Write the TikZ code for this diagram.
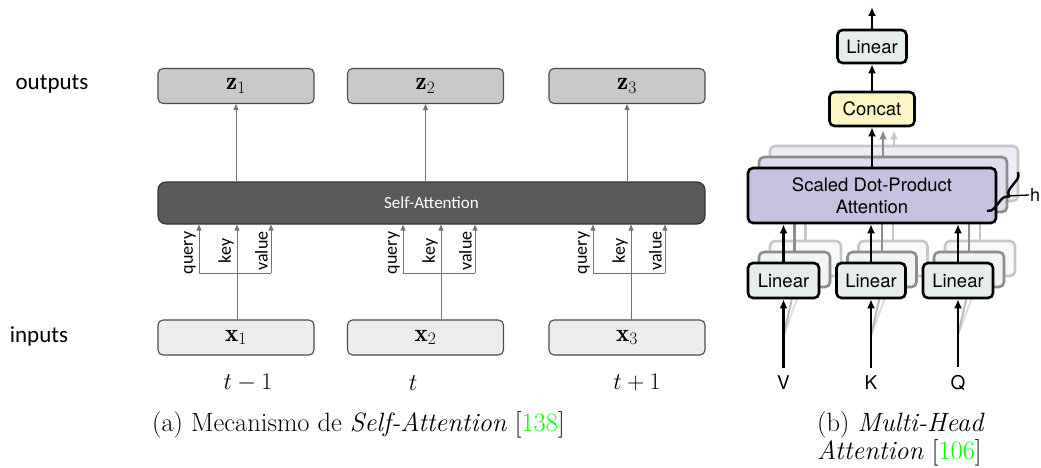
\RequirePackage{fix-cm}
\documentclass[tikz,border=0pt]{standalone}
\usepackage{fontspec}
\newfontfamily\calibri{Carlito}
\newfontfamily\helv{TeX Gyre Heros}
\usetikzlibrary{arrows.meta,decorations.pathreplacing,positioning}

\definecolor{outfill}{RGB}{201,201,201}
\definecolor{infill}{RGB}{236,236,236}
\definecolor{attfill}{RGB}{90,90,90}
\definecolor{linfill}{RGB}{231,237,235}
\definecolor{catfill}{RGB}{251,246,196}
\definecolor{dotfill}{RGB}{199,192,224}

\tikzset{
  vecbox/.style={draw=black!70, fill=#1, rounded corners=5pt, line width=1.1pt,
    minimum width=156pt, minimum height=35pt, inner sep=0pt,
    font=\fontsize{25}{28}\selectfont},
  thinarrow/.style={draw=black!55, line width=0.9pt, -{Triangle[length=6pt,width=5pt]}},
  qkv/.style={rotate=90, anchor=south, inner sep=3pt, font=\calibri\fontsize{18}{20}\selectfont},
  mhbox/.style={draw=black, line width=2.6pt, rounded corners=5pt, fill=#1, inner sep=0pt,
    font=\helv\fontsize{18.5}{22}\selectfont},
  fatarrow/.style={line width=2.6pt, -{Latex[length=9pt,width=8pt]}},
}

\begin{document}
\begin{tikzpicture}[x=1pt,y=-1pt]
  \useasboundingbox (0,0) rectangle (1041,468);

  % self-attention over three time steps
  \node[font=\calibri\fontsize{23}{26}\selectfont] (outlbl) at (52,84) {outputs};
  \node[font=\calibri\fontsize{23}{26}\selectfont] (inlbl) at (39,336) {inputs};
  \node[draw=black!80, fill=attfill, rounded corners=8pt, line width=1.1pt,
    minimum width=547pt, minimum height=42pt, text=white,
    font=\calibri\fontsize{17}{20}\selectfont] (att) at (431.5,203) {Self-Attention};

  \foreach \i/\cx/\kx/\tx/\t in {1/236/237/248/t-1, 2/425.5/441/413/t, 3/627/631/637/t+1} {
    \node[vecbox=outfill] (z\i) at (\cx,86) {$\mathbf{z}_\i$};
    \node[vecbox=infill] (x\i) at (\cx,337.5) {$\mathbf{x}_\i$};
    \node[font=\fontsize{24}{28}\selectfont] (t\i) at (\tx,383) {$\t$};
    \draw[thinarrow] (att.north -| z\i.south) -- (z\i.south);
    % key goes straight up, query and value branch off it
    \coordinate (k\i) at (\kx,320);
    \coordinate (q\i) at (\kx-38,273);
    \coordinate (v\i) at (\kx+34,273);
    \draw[draw=black!55, line width=0.9pt] (q\i) -- (v\i);
    \draw[thinarrow] (k\i) -- (k\i |- att.south);
    \draw[thinarrow] (q\i) -- (q\i |- att.south);
    \draw[thinarrow] (v\i) -- (v\i |- att.south);
    \node[qkv] (ql\i) at (q\i |- 0,253) {query};
    \node[qkv] (kl\i) at (k\i |- 0,251) {key};
    \node[qkv] (vl\i) at (v\i |- 0,251) {value};
  }

  % multi-head attention
  \coordinate (out) at (872,7);
  \node[mhbox=linfill, minimum width=69pt, minimum height=33pt] (lintop) at (872,46.5) {Linear};
  \node[mhbox=catfill, minimum width=85pt, minimum height=34pt] (concat) at (872,109) {Concat};
  \node[font=\helv\fontsize{19}{22}\selectfont, inner sep=8pt] (vin) at (783.5,383) {V};
  \node[font=\helv\fontsize{19}{22}\selectfont, inner sep=8pt] (kin) at (871,383) {K};
  \node[font=\helv\fontsize{19}{22}\selectfont, inner sep=8pt] (qin) at (958,383) {Q};

  % the other heads, stacked behind
  \foreach \d/\ln/\sm/\fl/\lf in {22/black!22/black!13/dotfill!30/linfill!35, 11/black!45/black!27/dotfill!55/linfill!60} {
    \draw[\sm, line width=2pt] ([yshift=32pt]vin.north) -- (783.5+\d,298-\d);
    \draw[\sm, line width=2pt] ([yshift=32pt]kin.north) -- (871+\d,298-\d);
    \draw[\sm, line width=2pt] ([yshift=32pt]qin.north) -- (958+\d,298-\d);
    \node[mhbox=\fl, draw=\ln, minimum width=248pt, minimum height=55pt] (sdpa\d) at (872+\d,195.5-\d) {};
    \node[mhbox=\lf, draw=\ln, minimum width=71pt, minimum height=35pt] (linv\d) at (783.5+\d,280.5-\d) {};
    \node[mhbox=\lf, draw=\ln, minimum width=69pt, minimum height=35pt] (link\d) at (871+\d,280.5-\d) {};
    \node[mhbox=\lf, draw=\ln, minimum width=70pt, minimum height=35pt] (linq\d) at (958+\d,280.5-\d) {};
    \draw[\ln, line width=2.6pt] (linv\d.north) -- (linv\d.north |- sdpa\d.south);
    \draw[\ln, line width=2.6pt] (link\d.north) -- (link\d.north |- sdpa\d.south);
    \draw[\ln, line width=2.6pt] (linq\d.north) -- (linq\d.north |- sdpa\d.south);
    \draw[\ln, fatarrow, shorten >=3pt] (sdpa\d.north) -- (sdpa\d.north |- concat.south);
  }

  \node[mhbox=dotfill, minimum width=248pt, minimum height=55pt, align=center] (sdpa) at (872,195.5)
    {Scaled Dot-Product\\Attention};
  \node[mhbox=linfill, minimum width=71pt, minimum height=35pt] (linv) at (783.5,280.5) {Linear};
  \node[mhbox=linfill, minimum width=69pt, minimum height=35pt] (link) at (871,280.5) {Linear};
  \node[mhbox=linfill, minimum width=70pt, minimum height=35pt] (linq) at (958,280.5) {Linear};

  \draw[fatarrow] (vin.north) -- (linv.south);
  \draw[fatarrow] (kin.north) -- (link.south);
  \draw[fatarrow] (qin.north) -- (linq.south);
  \draw[fatarrow] (linv.north) -- (linv.north |- sdpa.south);
  \draw[fatarrow] (link.north) -- (link.north |- sdpa.south);
  \draw[fatarrow] (linq.north) -- (linq.north |- sdpa.south);
  \draw[fatarrow] (sdpa.north) -- (concat.south);
  \draw[fatarrow] (concat.north) -- (lintop.south);
  \draw[fatarrow] (lintop.north) -- (out);

  % h heads
  \coordinate (hb1) at (1018,172);
  \coordinate (hb2) at (987,211);
  \coordinate (htip) at (1008,196);
  \draw[line width=2.4pt, decorate, decoration={brace, amplitude=8pt}] (hb1) -- (hb2);
  \node[anchor=west, inner sep=1pt, font=\helv\fontsize{18}{22}\selectfont] (hlbl) at (1029,195) {h};
  \draw[line width=1.3pt] (htip) -- (hlbl.west);

  % captions
  \node[anchor=base west, inner sep=0pt, font=\fontsize{26.5}{28}\selectfont] (capa) at (152,431)
    {(a) Mecanismo de \textit{Self-Attention} [\textcolor{green}{138}]};
  \node[anchor=north west, inner sep=0pt, align=left, font=\fontsize{26.5}{28}\selectfont] (capb) at (817,411)
    {(b) \textit{Multi-Head}\\\textit{Attention} [\textcolor{green}{106}]};
\end{tikzpicture}
\end{document}
